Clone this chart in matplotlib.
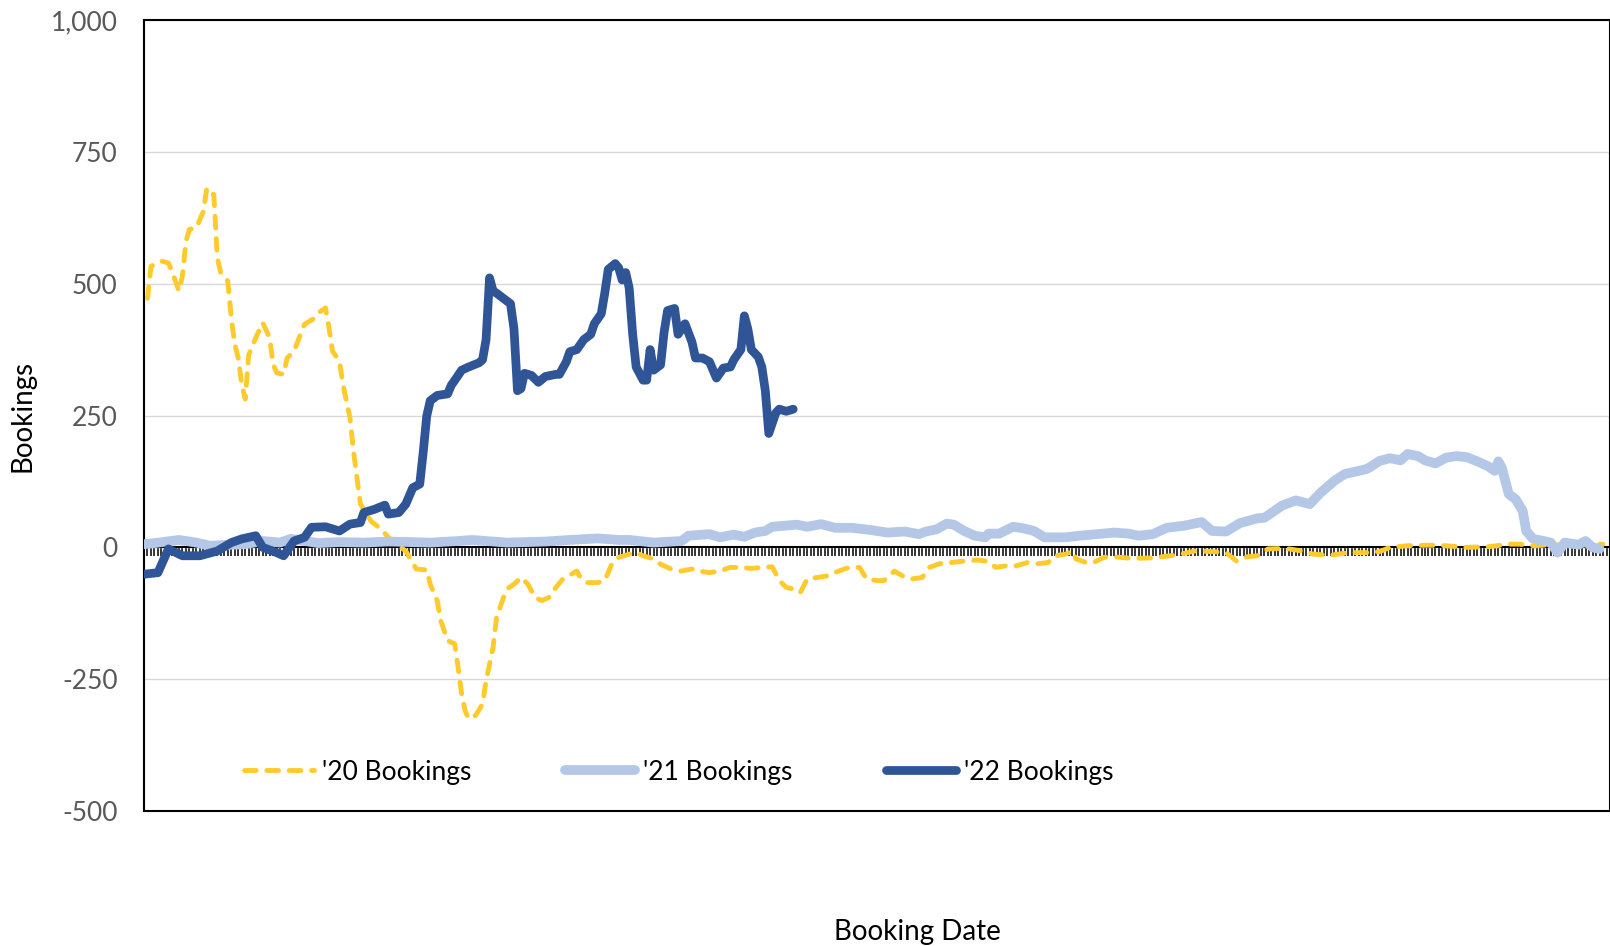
import numpy as np
import matplotlib
matplotlib.use("Agg")
import matplotlib.pyplot as plt

# booking days (index from chart start) and values
days_20 = [1, 2, 5, 7, 8, 10, 11, 12, 13, 15, 17, 18, 20, 21, 22, 24, 25, 26, 27, 28,
           29, 30, 32, 34, 36, 37, 38, 40, 41, 43, 45, 46, 49, 50, 52, 53, 54, 56, 57, 59,
           60, 61, 62, 65, 68, 70, 72, 75, 78, 81, 82, 84, 85, 87, 89, 90, 91, 92, 93, 95,
           97, 98, 100, 101, 103, 104, 106, 108, 110, 112, 114, 116, 118, 120, 124, 125, 127, 130, 132, 134,
           136, 139, 141, 143, 146, 148, 151, 154, 157, 159, 162, 165, 168, 171, 174, 177, 180, 182, 184, 186,
           188, 190, 193, 196, 199, 202, 205, 207, 210, 212, 215, 218, 220, 223, 225, 228, 231, 235, 239, 242,
           244, 247, 250, 253, 256, 259, 261, 264, 266, 267, 270, 272, 275, 278, 283, 289, 294, 297, 301, 306,
           310, 313, 316, 319, 322, 327, 332, 335, 340, 345, 350, 354, 357, 362, 368, 373, 379, 385, 391, 394,
           398, 404, 410, 418]
vals_20 = [472, 533, 543, 539, 524, 486, 514, 580, 603, 606, 637, 681, 669, 549, 520, 505, 435, 385, 359, 309,
           281, 365, 397, 426, 397, 347, 331, 328, 359, 372, 407, 423, 435, 445, 454, 416, 372, 353, 309, 246,
           183, 132, 82, 50, 34, 19, 8, -7, -41, -43, -70, -101, -139, -177, -183, -228, -278, -310, -325, -319,
           -297, -253, -190, -133, -95, -79, -70, -57, -70, -95, -101, -95, -76, -60, -45, -57, -67, -67, -63, -32,
           -19, -13, -10, -16, -22, -32, -41, -45, -41, -45, -48, -45, -38, -38, -40, -38, -37, -63, -76, -79,
           -86, -60, -57, -54, -45, -38, -38, -60, -63, -63, -45, -57, -60, -57, -38, -31, -29, -26, -24, -27,
           -38, -35, -35, -29, -31, -29, -16, -13, -7, -22, -29, -29, -19, -18, -21, -20, -16, -13, -7, -8,
           -10, -26, -18, -16, -3, -2, -7, -13, -15, -10, -10, -8, 0, 3, 4, 3, 0, 1, 6, 6,
           3, 5, 4, 6]

days_21 = [0, 3, 10, 15, 19, 25, 29, 34, 39, 42, 50, 56, 63, 70, 82, 90, 94, 100, 104, 110,
           115, 122, 130, 136, 139, 146, 154, 156, 162, 165, 169, 172, 175, 178, 180, 187, 190, 194, 198, 203,
           208, 213, 218, 222, 224, 227, 230, 232, 235, 238, 241, 242, 245, 249, 252, 255, 258, 264, 268, 273,
           278, 282, 285, 289, 293, 298, 303, 306, 310, 314, 319, 321, 326, 330, 334, 337, 341, 344, 348, 350,
           351, 354, 357, 360, 362, 365, 367, 370, 373, 376, 379, 382, 385, 387, 388, 389, 391, 393, 395, 396,
           398, 401, 403, 405, 407, 411, 413, 415, 417]
vals_21 = [6, 8, 14, 9, 3, 5, 6, 12, 9, 16, 8, 10, 9, 11, 9, 12, 14, 11, 9, 10,
           11, 14, 17, 14, 14, 9, 12, 22, 25, 19, 24, 20, 28, 31, 39, 43, 39, 44, 37, 37,
           33, 28, 30, 25, 30, 34, 45, 43, 31, 22, 19, 26, 26, 39, 36, 31, 19, 19, 22, 25,
           28, 26, 22, 25, 37, 41, 48, 31, 30, 46, 55, 56, 79, 89, 82, 103, 126, 139, 145, 148,
           151, 164, 169, 165, 177, 173, 165, 159, 170, 173, 171, 163, 154, 145, 163, 151, 101, 91, 69, 31,
           16, 12, 9, -10, 9, 5, 12, 0, -3]

days_22 = [0, 4, 7, 11, 16, 21, 25, 28, 32, 34, 38, 40, 43, 46, 48, 52, 56, 59, 62, 63,
           66, 69, 70, 73, 75, 77, 79, 80, 81, 82, 84, 87, 88, 90, 91, 93, 96, 97, 98, 99,
           100, 101, 103, 105, 106, 107, 108, 109, 111, 113, 115, 118, 119, 121, 122, 124, 126, 128, 129, 131,
           132, 133, 135, 136, 137, 138, 139, 140, 141, 143, 144, 145, 146, 148, 149, 150, 152, 153, 154, 155,
           157, 158, 160, 162, 164, 166, 168, 169, 171, 172, 173, 174, 176, 177, 178, 179, 181, 182, 184, 186]
vals_22 = [-51, -48, -3, -16, -16, -7, 9, 16, 22, 0, -10, -16, 12, 19, 38, 39, 31, 44, 47, 66,
           72, 80, 63, 66, 82, 113, 120, 181, 249, 278, 288, 291, 307, 326, 336, 342, 350, 356, 394, 511,
           486, 482, 472, 462, 414, 297, 301, 330, 326, 313, 324, 328, 328, 352, 371, 375, 394, 404, 424, 443,
           482, 527, 538, 530, 507, 521, 492, 404, 342, 317, 317, 375, 336, 346, 408, 449, 453, 404, 414, 424,
           389, 359, 359, 352, 321, 340, 342, 356, 375, 439, 414, 375, 361, 342, 297, 216, 255, 262, 258, 262]

series_names = ["'20 Bookings", "'21 Bookings", "'22 Bookings"]
y_ticks = [-500, -250, 0, 250, 500, 750, 1000]
y_tick_labels = ["-500", "-250", "0", "250", "500", "750", "1,000"]
n_days = 420

plt.rcParams['font.family'] = ['Lato', 'DejaVu Sans']

fig = plt.figure(figsize=(16.1, 9.46), dpi=100)
ax = fig.add_axes([144 / 1610, 1 - 811 / 946, 1 - 144 / 1610, (811 - 20) / 946])

ax.plot(days_20, vals_20, color='#FFCA2C', lw=3.5, linestyle=(0, (2.4, 2.2)),
        dash_capstyle='round', dash_joinstyle='round', label=series_names[0], zorder=3)
ax.plot(days_21, vals_21, color='#B4C7E7', lw=7, solid_capstyle='round',
        solid_joinstyle='round', label=series_names[1], zorder=4)
ax.plot(days_22, vals_22, color='#2F5597', lw=6.3, solid_capstyle='round',
        solid_joinstyle='round', label=series_names[2], zorder=5)

ax.set_xlim(0, n_days)
ax.set_ylim(-500, 1000)
ax.set_yticks(y_ticks)
ax.set_yticklabels(y_tick_labels)
ax.tick_params(axis='y', length=0, pad=19, labelsize=19, labelcolor='#595959')

# x axis sits at zero with one tick per day, no labels
ax.spines['bottom'].set_position(('data', 0))
ax.spines['bottom'].set_linewidth(1.5)
ax.set_xticks(np.arange(0, n_days + 1))
ax.tick_params(axis='x', direction='out', length=6.5, width=1.1, labelbottom=False)
ax.spines['bottom'].set_zorder(2)

for s in ['left', 'top', 'right']:
    ax.spines[s].set_linewidth(1.5)
ax.plot([0, 1], [0, 0], transform=ax.transAxes, color='black', lw=1.5, clip_on=False)

ax.yaxis.grid(True, color='#D9D9D9', lw=1)
ax.set_axisbelow(True)

leg = ax.legend(loc='center left', bbox_to_anchor=((244 - 144) / 1466, (811 - 772) / 791),
                ncol=3, frameon=False, fontsize=19, handlelength=2.65, handletextpad=0.3,
                columnspacing=3.55, borderaxespad=0, borderpad=0)

fig.text(23 / 1610, 1 - 416 / 946, 'Bookings', rotation=90, ha='center', va='center', fontsize=20)
fig.text(917 / 1610, 1 - 932 / 946, 'Booking Date', ha='center', va='center', fontsize=20)

fig.savefig('out.png', dpi=100)
